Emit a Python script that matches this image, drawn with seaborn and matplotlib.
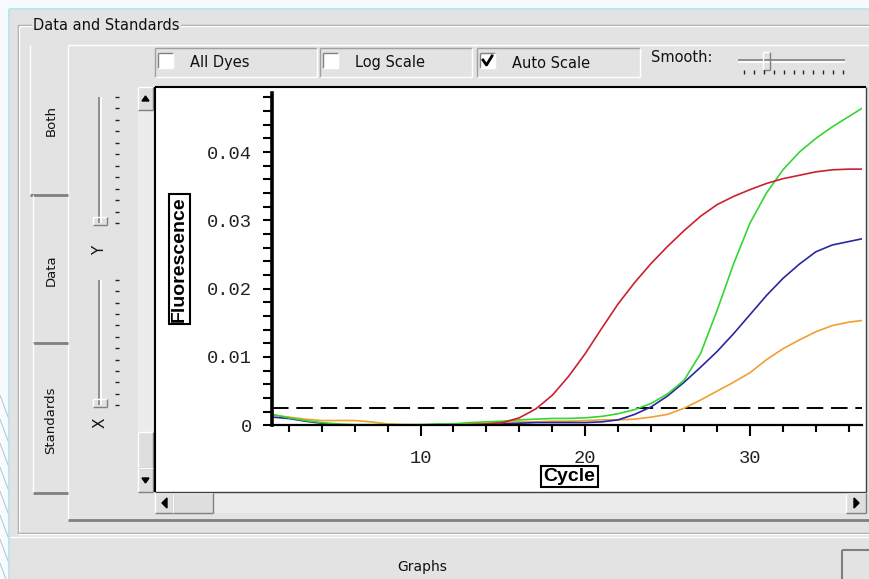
import numpy as np
import pandas as pd
import matplotlib
matplotlib.use("Agg")
import matplotlib.pyplot as plt
import seaborn as sns
from matplotlib.patches import Rectangle, Polygon
from matplotlib.lines import Line2D

# ---------------- data ----------------
cycles = list(range(1, 38))
red = [0.0000, 0.0000, 0.0000, 0.0000, 0.0000, 0.0000, 0.0000, 0.0000, 0.0000, 0.0000,
       0.0000, 0.0000, 0.0001, 0.0002, 0.0004, 0.0011, 0.0024, 0.0044, 0.0072, 0.0105,
       0.0142, 0.0178, 0.0209, 0.0237, 0.0262, 0.0285, 0.0306, 0.0323, 0.0335, 0.0345,
       0.0354, 0.0361, 0.0366, 0.0371, 0.0374, 0.0375, 0.0375]
green = [0.0016, 0.0011, 0.0007, 0.0004, 0.0002, 0.0001, 0.0001, 0.0001, 0.0001, 0.0001,
         0.0002, 0.0002, 0.0004, 0.0005, 0.0006, 0.0008, 0.0009, 0.0010, 0.0010, 0.0011,
         0.0013, 0.0017, 0.0023, 0.0032, 0.0046, 0.0066, 0.0105, 0.0168, 0.0236, 0.0296,
         0.0340, 0.0374, 0.0400, 0.0420, 0.0437, 0.0452, 0.0467]
blue = [0.0012, 0.0010, 0.0006, 0.0003, 0.0001, 0.0000, 0.0000, 0.0000, 0.0000, 0.0000,
        0.0000, 0.0000, 0.0000, 0.0000, 0.0002, 0.0003, 0.0004, 0.0004, 0.0004, 0.0004,
        0.0005, 0.0008, 0.0016, 0.0027, 0.0043, 0.0063, 0.0085, 0.0108, 0.0134, 0.0162,
        0.0190, 0.0215, 0.0236, 0.0254, 0.0264, 0.0269, 0.0274]
orange = [0.0015, 0.0012, 0.0009, 0.0007, 0.0007, 0.0007, 0.0005, 0.0002, 0.0001, 0.0001,
          0.0001, 0.0001, 0.0002, 0.0003, 0.0004, 0.0005, 0.0005, 0.0006, 0.0006, 0.0007,
          0.0008, 0.0008, 0.0009, 0.0012, 0.0016, 0.0025, 0.0037, 0.0050, 0.0063, 0.0077,
          0.0096, 0.0112, 0.0125, 0.0137, 0.0146, 0.0151, 0.0154]
threshold = 0.0025
dye_names = ["Orange", "Blue", "Green", "Red"]
dye_colors = ["#f0a030", "#2828a0", "#33d633", "#cc2030"]
y_ticks = [0, 0.01, 0.02, 0.03, 0.04]
y_tick_labels = ["0", "0.01", "0.02", "0.03", "0.04"]
x_ticks = [10, 20, 30]
x_tick_labels = ["10", "20", "30"]

df = pd.DataFrame({
    "Cycle": cycles * 4,
    "Fluorescence": orange + blue + green + red,
    "Dye": sum([[n] * len(cycles) for n in dye_names], []),
})

# ---------------- figure / UI chrome ----------------
W, H = 869, 579
fig = plt.figure(figsize=(W / 100, H / 100), dpi=100, facecolor="#e3e3e3")

def box(x, y, w, h, fc="none", ec="none", lw=1.0, z=-5):
    fig.add_artist(Rectangle((x / W, 1 - (y + h) / H), w / W, h / H,
                             transform=fig.transFigure, facecolor=fc,
                             edgecolor=ec, linewidth=lw, zorder=z))

def line(x0, y0, x1, y1, color, lw=1.0, z=-4):
    fig.add_artist(Line2D([x0 / W, x1 / W], [1 - y0 / H, 1 - y1 / H],
                          transform=fig.transFigure, color=color, lw=lw,
                          zorder=z, solid_capstyle="butt"))

def txt(x, y, s, **kw):
    kw.setdefault("family", "DejaVu Sans")
    kw.setdefault("fontsize", 10)
    kw.setdefault("color", "#111111")
    fig.text(x / W, 1 - y / H, s, **kw)

def raised(x, y, w, h, fc="#dedede"):
    box(x, y, w, h, fc=fc)
    line(x, y, x + w, y, "white")
    line(x, y, x, y + h, "white")
    line(x, y + h, x + w, y + h, "#808080")
    line(x + w, y, x + w, y + h, "#808080")

def sunken(x, y, w, h, fc="white"):
    box(x, y, w, h, fc=fc)
    line(x, y, x + w, y, "#808080")
    line(x, y, x, y + h, "#808080")
    line(x, y + h, x + w, y + h, "white")
    line(x + w, y, x + w, y + h, "white")

def tri(pts, color="black"):
    fig.add_artist(Polygon([(px / W, 1 - py / H) for px, py in pts], closed=True,
                           transform=fig.transFigure, facecolor=color,
                           edgecolor=color, zorder=-3))

# outer light strips
box(0, 0, W, 9, fc="#f7fbfd")
box(0, 0, 9, H, fc="#f7fbfd")
line(9, 9, W, 9, "#bfe3ef", lw=1.5)
line(9, 9, 9, H, "#bfe3ef", lw=1.5)
for k in range(8):
    y0 = 395 + k * 24
    line(0, y0, 8, y0 + 22, "#b8c8d0", lw=0.8)

# group box "Data and Standards"
line(18, 25, W, 25, "#a0a0a0")
line(19, 26, W, 26, "white")
line(18, 25, 18, 533, "#a0a0a0")
line(19, 26, 19, 532, "white")
line(18, 533, W, 533, "#a0a0a0")
line(18, 534, W, 534, "white")
txt(33, 25, "Data and Standards", va="center", ha="left", fontsize=10.5,
    bbox=dict(boxstyle="square,pad=0.1", fc="#e3e3e3", ec="none"))

# tab page
line(68, 45, W, 45, "white")
line(68, 45, 68, 520, "white")
line(68, 520, W, 520, "#808080", lw=2)

# left tabs
tabs = [("Both", 45, 195, 120), ("Data", 195, 343, 270), ("Standards", 343, 493, 420)]
for i, (name, y0, y1, ty) in enumerate(tabs):
    x0 = 30 if i == 0 else 33
    line(x0, y0, x0, y1, "white")
    line(x0, y1, 68, y1, "#808080", lw=2)
    txt(51, ty, name, rotation=90, ha="center", va="center", fontsize=9.5)

# sliders Y and X
for (t0, t1, lbl, ly) in [(97, 223, "Y", 250), (280, 405, "X", 423)]:
    line(99, t0, 99, t1, "#808080", lw=1.2)
    line(101, t0, 101, t1, "white", lw=1.2)
    for ty in np.linspace(t0, t1, 12):
        line(115, ty, 119, ty, "#222222", lw=1)
    raised(93, t1 - 6, 14, 8, fc="#e0e0e0")
    txt(100, ly, lbl, rotation=90, ha="center", va="center", fontsize=11)

# vertical scrollbar
box(138, 87, 15, 405, fc="#ececec")
raised(138, 87, 15, 23)
tri([(142, 101), (149, 101), (145.5, 96)])
raised(138, 432, 15, 36)
raised(138, 468, 15, 24)
tri([(142, 478), (149, 478), (145.5, 483)])

# horizontal scrollbar
box(155, 493, 711, 20, fc="#ececec")
raised(155, 493, 18, 20)
tri([(167, 498), (167, 508), (162, 503)])
raised(173, 493, 40, 20)
raised(846, 493, 20, 20)
tri([(854, 498), (854, 508), (859, 503)])

# checkboxes row
checks = [("All Dyes", 155, 317, False), ("Log Scale", 320, 472, False),
          ("Auto Scale", 477, 640, True)]
for name, x0, x1, on in checks:
    line(x0, 48, x1, 48, "#a0a0a0")
    line(x0, 48, x0, 77, "#a0a0a0")
    line(x0, 77, x1, 77, "white")
    line(x1, 48, x1, 77, "white")
    sunken(x0 + 3, 53, 15, 15)
    if on:
        fig.add_artist(Line2D([(x0 + 6) / W, (x0 + 9.5) / W, (x0 + 15) / W],
                              [1 - 60 / H, 1 - 65 / H, 1 - 56 / H],
                              transform=fig.transFigure, color="black",
                              lw=2, zorder=-2))
    txt(x0 + 35, 63, name, ha="left", va="center", fontsize=10.5)

txt(651, 58, "Smooth:", ha="left", va="center", fontsize=10.5)
line(738, 60, 845, 60, "#808080", lw=1.2)
line(738, 62, 845, 62, "white", lw=1.2)
raised(763, 52, 7, 18, fc="#e0e0e0")
for tx in np.linspace(744, 843, 11):
    line(tx, 70, tx, 74, "#222222", lw=1)

# bottom
line(10, 537, W, 537, "white")
txt(422, 567, "Graphs", ha="center", va="center", fontsize=10)
line(842, 550, W, 550, "#808080", lw=1.5)
line(842, 550, 842, H, "#808080", lw=1.5)

# white plot panel
box(155, 87, 711, 405, fc="white", ec="none", z=-5)
line(155, 87, 866, 87, "black", lw=1.5, z=-3)
line(155, 87, 155, 492, "black", lw=1.5, z=-3)
line(155, 492, 866, 492, "#404040", lw=1, z=-3)
line(866, 87, 866, 492, "#404040", lw=1, z=-3)

# ---------------- chart ----------------
x_left, x_right = 272.3, 862.0
y_zero, y_top = 425.3, 93.3
ax = fig.add_axes([x_left / W, 1 - y_zero / H, (x_right - x_left) / W,
                   (y_zero - y_top) / H])
ax.set_facecolor("none")

sns.lineplot(data=df, x="Cycle", y="Fluorescence", hue="Dye",
             hue_order=dye_names, palette=dye_colors, ax=ax,
             legend=False, linewidth=1.2, clip_on=True)

ax.axhline(threshold, color="black", lw=1.4, dashes=(8.5, 4), zorder=1)

ax.set_xlim(1, 36.8)
ax.set_ylim(0, 0.0486)
for s in ["top", "right"]:
    ax.spines[s].set_visible(False)
ax.spines["left"].set_linewidth(2.6)
ax.spines["bottom"].set_linewidth(1.6)
ax.spines["left"].set_color("black")
ax.spines["bottom"].set_color("black")

ax.set_yticks(y_ticks)
ax.set_yticklabels(y_tick_labels)
ax.set_yticks(np.arange(0, 0.0485, 0.002), minor=True)
ax.set_xticks(x_ticks)
ax.set_xticklabels(x_tick_labels)
ax.set_xticks(np.arange(2, 37, 2), minor=True)

ax.tick_params(axis="y", which="both", direction="out", length=6.5, width=1.5,
               pad=8, color="black")
ax.tick_params(axis="x", which="major", direction="out", length=8, width=1.5,
               pad=10, color="black")
ax.tick_params(axis="x", which="minor", direction="out", length=5, width=1.5,
               color="black")
for lab in ax.get_xticklabels() + ax.get_yticklabels():
    lab.set_family("Liberation Mono")
    lab.set_fontsize(13.5)
    lab.set_color("#222222")

ax.set_xlabel("")
ax.set_ylabel("")
fig.text(179.5 / W, 1 - 259 / H, "Fluorescence", rotation=90, ha="center",
         va="center", family="Liberation Sans", fontweight="bold", fontsize=14,
         bbox=dict(boxstyle="square,pad=0.12", fc="white", ec="black", lw=1.5))
fig.text(569.5 / W, 1 - 476.5 / H, "Cycle", ha="center", va="center",
         family="Liberation Sans", fontweight="bold", fontsize=14,
         bbox=dict(boxstyle="square,pad=0.12", fc="white", ec="black", lw=1.5))

fig.savefig("out.png", dpi=100, facecolor=fig.get_facecolor())
